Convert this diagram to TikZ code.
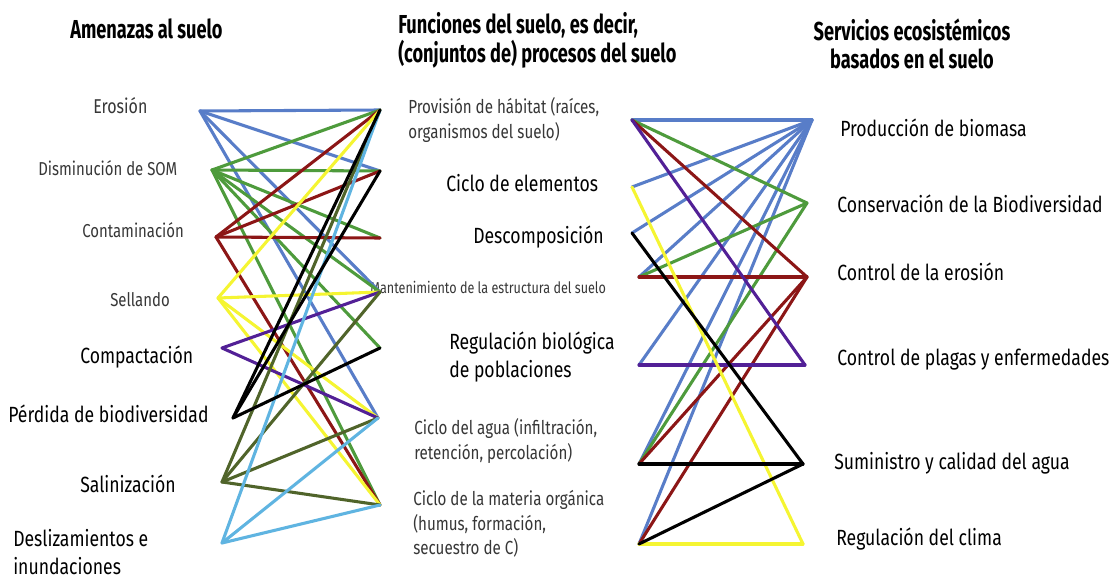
\documentclass[tikz,border=0pt]{standalone}
\usepackage{fontspec}
\setmainfont[FakeStretch=0.8]{Fira Sans}
\newfontfamily\hdrfont[FakeStretch=0.7]{Fira Sans}
\definecolor{cBlue}{RGB}{88,125,200}
\definecolor{cGreen}{RGB}{78,155,60}
\definecolor{cRed}{RGB}{140,22,22}
\definecolor{cYellow}{RGB}{245,245,50}
\definecolor{cPurple}{RGB}{82,32,150}
\definecolor{cOlive}{RGB}{80,100,42}
\definecolor{cLight}{RGB}{95,180,225}
\definecolor{cGray}{RGB}{55,55,55}
\begin{document}
\begin{tikzpicture}[x=0.75pt,y=-0.75pt,
  conn/.style={line width=2.3pt,line cap=round,line join=round},
  hdr/.style={inner sep=0pt,anchor=west,align=left,font=\hdrfont\bfseries\fontsize{19.5}{21.8}\selectfont},
  hdrc/.style={inner sep=0pt,align=center,font=\hdrfont\bfseries\fontsize{19.5}{21}\selectfont},
  lblS/.style={inner sep=0pt,anchor=west,align=left,text=cGray,font=\fontsize{14}{18}\selectfont},
  lblL/.style={inner sep=0pt,anchor=west,align=left,font=\fontsize{16.5}{21.5}\selectfont},
  lblM/.style={inner sep=0pt,anchor=west,align=left,text=cGray,font=\fontsize{14.2}{18.5}\selectfont},
  lblT/.style={inner sep=0pt,anchor=west,align=left,text=cGray,font=\fontsize{11.8}{13}\selectfont},
]
\useasboundingbox (0,0) rectangle (1113,581);
\fill[white] (0,0) rectangle (1113,581);

% headers
\node[hdr] (h1) at (70,29) {Amenazas al suelo};
\node[hdr] (h2) at (398,40) {Funciones del suelo, es decir,\\(conjuntos de) procesos del suelo};
\node[hdrc] (h3) at (912,44) {Servicios ecosist\'emicos\\basados en el suelo};

% threat labels
\node[lblS,font=\fontsize{15}{18}\selectfont] (l1) at (93,106) {Erosión};
\node[lblS] (l2) at (38,168) {Disminución de SOM};
\node[lblS] (l3) at (82,230) {Contaminación};
\node[lblS] (l4) at (110,300) {Sellando};
\node[lblL] (l5) at (80,357) {Compactación};
\node[lblL] (l6) at (8,414) {Pérdida de biodiversidad};
\node[lblL] (l7) at (80,484) {Salinización};
\node[lblL,font=\fontsize{16.5}{21}\selectfont] (l8) at (13,552) {Deslizamientos e\\inundaciones};

% function labels
\node[lblM] (m1) at (408,120) {Provisión de hábitat (raíces,\\organismos del suelo)};
\node[lblL] (m2) at (446,183) {Ciclo de elementos};
\node[lblL] (m3) at (473,237) {Descomposición};
\node[lblT] (m4) at (370,287) {Mantenimiento de la estructura del suelo};
\node[lblL] (m5) at (449,357) {Regulación biológica\\de poblaciones};
\node[lblM] (m6) at (414,441) {Ciclo del agua (infiltración,\\retención, percolación)};
\node[lblM] (m7) at (413,524) {Ciclo de la materia orgánica\\(humus, formación,\\secuestro de C)};

% service labels
\node[lblL] (r1) at (840,128) {Producción de biomasa};
\node[lblL] (r2) at (837,204) {Conservación de la Biodiversidad};
\node[lblL] (r3) at (837,272) {Control de la erosión};
\node[lblL] (r4) at (837,360) {Control de plagas y enfermedades};
\node[lblL] (r5) at (834,463) {Suministro y calidad del agua};
\node[lblL] (r6) at (836,539) {Regulación del clima};

% anchor points
\coordinate (t1) at (200,111);
\coordinate (t2) at (212,170);
\coordinate (t3) at (216,237);
\coordinate (t4) at (218,298);
\coordinate (t5) at (222,348);
\coordinate (t6) at (233,418);
\coordinate (t7) at (222,482);
\coordinate (t8) at (222,543);

\coordinate (a1) at (380,110);
\coordinate (a2) at (380,171);
\coordinate (a3) at (380,238);
\coordinate (a4) at (380,292);
\coordinate (a5) at (380,348);
\coordinate (a6) at (378,418);
\coordinate (a7) at (380,505);

\coordinate (b1) at (632,120);
\coordinate (b2) at (632,187);
\coordinate (b3) at (632,233);
\coordinate (b4) at (639,277);
\coordinate (b5) at (639,365);
\coordinate (b6) at (639,464);
\coordinate (b7) at (639,544);

\coordinate (s1) at (812,120);
\coordinate (s2) at (807,203);
\coordinate (s3) at (807,277);
\coordinate (s4) at (805,365);
\coordinate (s5) at (803,464);
\coordinate (s6) at (803,544);

% left block connectors
\foreach \f in {a1,a2,a4,a6} \draw[conn,cBlue] (t1) -- (\f);
\foreach \f in {a1,a2,a3,a4,a5,a7} \draw[conn,cGreen] (t2) -- (\f);
\foreach \f in {a1,a2,a3,a7} \draw[conn,cRed] (t3) -- (\f);
\foreach \f in {a1,a4,a6,a7} \draw[conn,cYellow] (t4) -- (\f);
\foreach \f in {a4,a6} \draw[conn,cPurple] (t5) -- (\f);
\foreach \f in {a1,a4,a6,a7} \draw[conn,cOlive] (t7) -- (\f);
\foreach \f in {a1,a6,a7} \draw[conn,cLight] (t8) -- (\f);
\foreach \f in {a1,a2,a5} \draw[conn,black] (t6) -- (\f);

% right block connectors
\foreach \f in {b1,b2,b3,b4,b5,b6,b7} \draw[conn,cBlue] (s1) -- (\f);
\foreach \f in {b1,b4,b6} \draw[conn,cGreen] (s2) -- (\f);
\foreach \f in {b1,b4,b6,b7} \draw[conn,cRed] (s3) -- (\f);
\foreach \f in {b1,b5} \draw[conn,cPurple] (s4) -- (\f);
\foreach \f in {b2,b7} \draw[conn,cYellow] (s6) -- (\f);
\foreach \f in {b3,b6,b7} \draw[conn,black] (s5) -- (\f);
\end{tikzpicture}
\end{document}
